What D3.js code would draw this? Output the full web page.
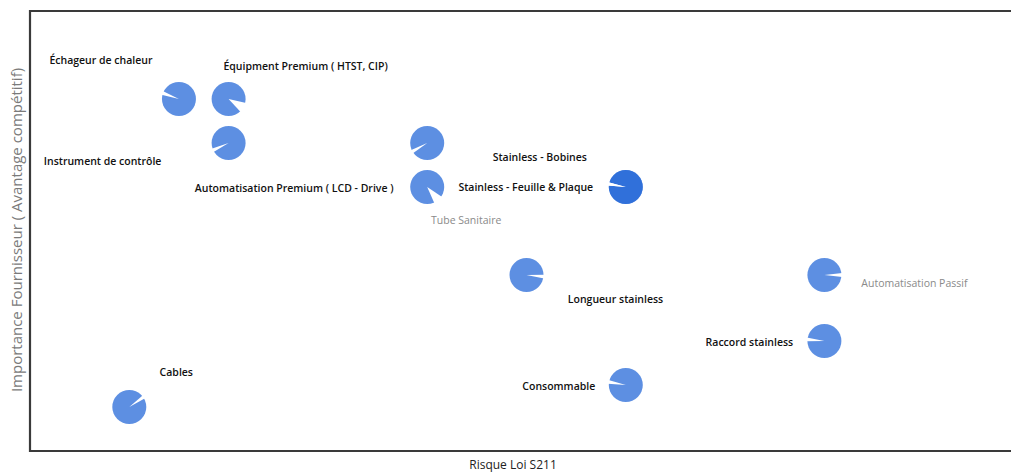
<!DOCTYPE html>
<html>
<head>
<meta charset="utf-8">
<script src="https://cdn.jsdelivr.net/npm/d3@7"></script>
<style>
  html, body { margin: 0; padding: 0; background: #fff; }
  svg { display: block; }
</style>
</head>
<body>
<div id="chart"></div>
<script>
// categories and values (axes 0..10, no ticks shown)
const categories = [
  "Échageur de chaleur",
  "Équipment Premium ( HTST, CIP)",
  "Instrument de contrôle",
  "Automatisation Premium ( LCD - Drive )",
  "Tube Sanitaire",
  "Stainless - Bobines",
  "Stainless - Feuille & Plaque",
  "Longueur stainless",
  "Automatisation Passif",
  "Raccord stainless",
  "Consommable",
  "Cables"
];
const risque     = [1.5, 2, 2, 4, 4, 6, 6, 5, 8, 8, 6, 1];
const importance = [8, 8, 7, 7, 6, 6, 6, 4, 4, 2.5, 1.5, 1];
const taille     = [1, 1, 1, 1, 1, 1, 1, 1, 1, 1, 1, 1];

const xTitle = "Risque Loi S211";
const yTitle = "Importance Fournisseur ( Avantage compétitif)";

// label placement (offset of label centre from bubble centre, px) and leader wedge direction (deg, 0 = right)
const labelOffset = [[-78,-39],[77,-33],[-126,18],[-133,45],[39,33],[-86,-30],[-100,0],[89,24],[90,8],[-75,1],[-67,1],[47,-35]];
const wedgeDir    = [200, 30, 155, 150, 50, 190, 190, 5, 0, 185, 190, -35];
const wedgeWidth  = [12, 34, 12, 12, 32, 11, 11, 12, 12, 12, 12, 12];
const fadedLabel  = [false,false,false,false,true,false,false,false,true,false,false,false];

const W = 1011, H = 472;
const svg = d3.select("#chart").append("svg")
  .attr("width", W).attr("height", H);

const x = d3.scaleLinear().domain([0, 10]).range([30, 1023]);
const y = d3.scaleLinear().domain([0, 10]).range([451, 11]);
const r = d3.scaleSqrt().domain([0, 1]).range([0, 17]);

// plot frame (right side runs off the picture)
svg.append("path")
  .attr("d", "M1015," + y(10) + "H" + x(0) + "V" + y(0) + "H1015")
  .attr("fill", "none")
  .attr("stroke", "#3a3a3a")
  .attr("stroke-width", 2.2);

const pts = categories.map(function(c, i){
  return {name: c, x: x(risque[i]), y: y(importance[i]), r: r(taille[i]), i: i};
});

// bubbles, semi transparent so overlapping ones come out darker
svg.selectAll("circle.bubble")
  .data(pts)
  .enter()
  .append("circle")
  .attr("class", "bubble")
  .attr("cx", d => d.x)
  .attr("cy", d => d.y)
  .attr("r", d => d.r)
  .attr("fill", "rgb(30,100,215)")
  .attr("fill-opacity", 0.72);

// white leader wedges
const arc = d3.arc();
svg.selectAll("path.wedge")
  .data(pts)
  .enter()
  .append("path")
  .attr("class", "wedge")
  .attr("transform", d => "translate(" + d.x + "," + d.y + ")")
  .attr("d", function(d){
    var a = (wedgeDir[d.i] + 90) * Math.PI / 180;
    var w = wedgeWidth[d.i] * Math.PI / 180;
    return arc({innerRadius: 0, outerRadius: d.r + 1, startAngle: a - w / 2, endAngle: a + w / 2});
  })
  .attr("fill", "#fff");

// data labels
svg.selectAll("text.lbl")
  .data(pts)
  .enter()
  .append("text")
  .attr("class", "lbl")
  .attr("x", d => d.x + labelOffset[d.i][0])
  .attr("y", d => d.y + labelOffset[d.i][1] + 3.5)
  .attr("text-anchor", "middle")
  .style("font-family", "'Open Sans', sans-serif")
  .style("font-size", "10.5px")
  .style("font-weight", d => fadedLabel[d.i] ? 400 : 600)
  .attr("fill", d => fadedLabel[d.i] ? "#8a8a8a" : "#111")
  .text(d => d.name);

// axis titles
svg.append("text")
  .attr("x", 513)
  .attr("y", 469)
  .attr("text-anchor", "middle")
  .style("font-family", "'Open Sans', sans-serif")
  .style("font-size", "12px")
  .attr("fill", "#222")
  .text(xTitle);

svg.append("text")
  .attr("transform", "translate(22,230) rotate(-90)")
  .attr("text-anchor", "middle")
  .style("font-family", "'Open Sans', sans-serif")
  .style("font-size", "15px")
  .attr("fill", "#7a7a7a")
  .text(yTitle);
</script>
</body>
</html>
